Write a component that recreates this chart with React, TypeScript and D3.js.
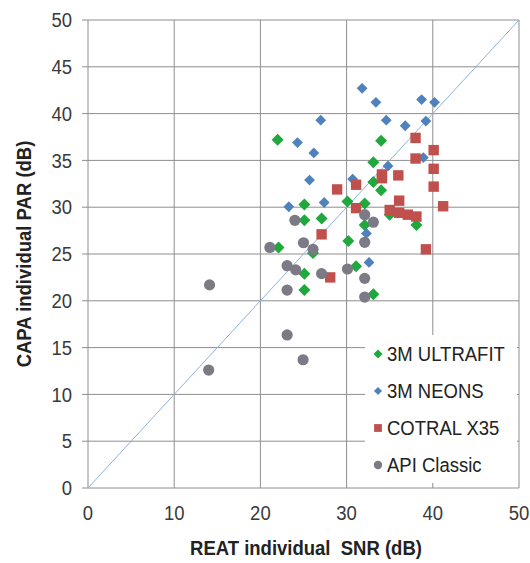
import React from 'react';
import * as d3 from 'd3';

// REAT SNR (x) vs CAPA PAR (y), in dB
const ultrafit: [number, number][] = [
  [22.0, 37.2], [34.0, 37.1], [33.1, 34.8], [33.1, 32.7], [34.0, 31.8],
  [25.1, 30.3], [30.1, 30.6], [32.1, 30.4], [35.0, 29.2], [25.1, 28.6],
  [27.1, 28.8], [32.1, 28.1], [38.1, 28.1], [22.1, 25.7], [26.1, 25.1],
  [30.2, 26.4], [25.1, 22.9], [31.1, 23.7], [25.1, 21.15], [33.1, 20.7],
];
const neons: [number, number][] = [
  [31.8, 42.7], [33.4, 41.2], [38.7, 41.5], [40.2, 41.2], [27.0, 39.3],
  [34.6, 39.3], [39.2, 39.2], [36.8, 38.7], [24.3, 36.9], [26.2, 35.8],
  [38.9, 35.3], [34.8, 34.4], [25.7, 32.9], [30.7, 33.0], [23.3, 30.05],
  [27.4, 30.5], [32.3, 27.2], [32.6, 24.1],
];
const cotral: [number, number][] = [
  [38.0, 37.4], [40.1, 36.1], [38.0, 35.2], [40.1, 34.1], [34.1, 33.5],
  [34.1, 33.1], [36.0, 33.4], [31.1, 32.4], [28.9, 31.9], [40.1, 32.2],
  [31.1, 29.9], [36.1, 30.7], [41.2, 30.1], [35.0, 29.7], [36.1, 29.4],
  [37.1, 29.2], [38.1, 29.0], [27.1, 27.1], [39.2, 25.5], [28.1, 22.5],
];
const apiClassic: [number, number][] = [
  [32.1, 29.2], [33.1, 28.4], [24.0, 28.6], [21.1, 25.7], [25.0, 26.2],
  [26.1, 25.5], [32.1, 26.25], [23.1, 23.75], [24.1, 23.3], [27.1, 22.9],
  [30.1, 23.4], [32.1, 22.4], [14.1, 21.7], [23.1, 21.15], [32.1, 20.4],
  [23.1, 16.35], [24.95, 13.7], [14.0, 12.6],
];
const diagonal: [number, number][] = [[0, 0], [50, 50]];

const xTicks = [0, 10, 20, 30, 40, 50];
const yTicks = [0, 5, 10, 15, 20, 25, 30, 35, 40, 45, 50];
const legendNames = ['3M ULTRAFIT', '3M NEONS', 'COTRAL X35', 'API Classic'];

const GREEN = '#1fa83c';
const BLUE = '#4f81bd';
const RED = '#c0504d';
const GREY = '#7b7a85';
const GRID = '#8e8e8e';
const FONT = 'Arial, "Liberation Sans", sans-serif';
const STRETCH = 1.08; // source image is a little taller than wide

const x = d3.scaleLinear().domain([0, 50]).range([88, 519]);
const y = d3.scaleLinear().domain([0, 50]).range([488, 20]);

const diamond = (cx: number, cy: number, r: number) =>
  `M${cx},${cy - r}L${cx + r},${cy}L${cx},${cy + r}L${cx - r},${cy}Z`;

const Marker = ({ kind, cx, cy, s }: { kind: number; cx: number; cy: number; s: number }) => {
  if (kind === 0) return <path d={diamond(cx, cy, s * 6)} fill={GREEN} />;
  if (kind === 1) return <path d={diamond(cx, cy, s * 5.4)} fill={BLUE} />;
  if (kind === 2)
    return <rect x={cx - s * 5.2} y={cy - s * 5.2} width={s * 10.4} height={s * 10.4} fill={RED} />;
  return <circle cx={cx} cy={cy} r={s * 5.6} fill={GREY} />;
};

// text slightly stretched vertically, like the reference
const T = ({ x0, y0, rot = 0, children, ...rest }: any) => (
  <text transform={`translate(${x0},${y0}) rotate(${rot}) scale(1,${STRETCH})`} {...rest}>
    {children}
  </text>
);

const App = () => {
  const series = [ultrafit, neons, cotral, apiClassic];
  const line = d3.line<[number, number]>().x(d => x(d[0])).y(d => y(d[1]));

  return (
    <svg
      width={530}
      height={563}
      style={{ position: 'absolute', left: 0, top: 0, background: '#fff' }}
      fontFamily={FONT}
    >
      {/* grid */}
      {yTicks.map(t => (
        <line key={'gy' + t} x1={82} x2={519} y1={y(t)} y2={y(t)} stroke={GRID} strokeWidth={1} />
      ))}
      {xTicks.map(t => (
        <line key={'gx' + t} x1={x(t)} x2={x(t)} y1={20} y2={488} stroke={GRID} strokeWidth={1} />
      ))}

      {/* tick labels */}
      {yTicks.map(t => (
        <T key={'ly' + t} x0={72} y0={y(t)} dy="0.36em" textAnchor="end" fontSize={18.5} fill="#3a3a3a">
          {t}
        </T>
      ))}
      {xTicks.map(t => (
        <T key={'lx' + t} x0={x(t)} y0={520} textAnchor="middle" fontSize={18.5} fill="#3a3a3a">
          {t}
        </T>
      ))}

      {/* y = x reference */}
      <path d={line(diagonal) || ''} stroke="#8fb2dc" strokeWidth={1} fill="none" />

      {/* points */}
      {series.map((pts, k) =>
        pts.map((p, i) => <Marker key={k + '-' + i} kind={k} cx={x(p[0])} cy={y(p[1])} s={1} />)
      )}

      {/* legend */}
      <rect x={365} y={335} width={152} height={148} fill="#fff" />
      {legendNames.map((name, i) => {
        const cy = 354 + i * 37;
        return (
          <g key={name}>
            <Marker kind={i} cx={378} cy={cy} s={0.75} />
            <T x0={387} y0={cy} dy="0.36em" fontSize={18.5} fill="#222">
              {name}
            </T>
          </g>
        );
      })}

      {/* axis titles */}
      <T x0={306} y0={555} textAnchor="middle" fontSize={18.5} fontWeight="bold" fill="#222">
        {'REAT individual\u00a0 SNR (dB)'}
      </T>
      <T x0={31} y0={254} rot={-90} textAnchor="middle" fontSize={18.5} fontWeight="bold" fill="#222">
        CAPA individual PAR (dB)
      </T>
    </svg>
  );
};

export default App;
